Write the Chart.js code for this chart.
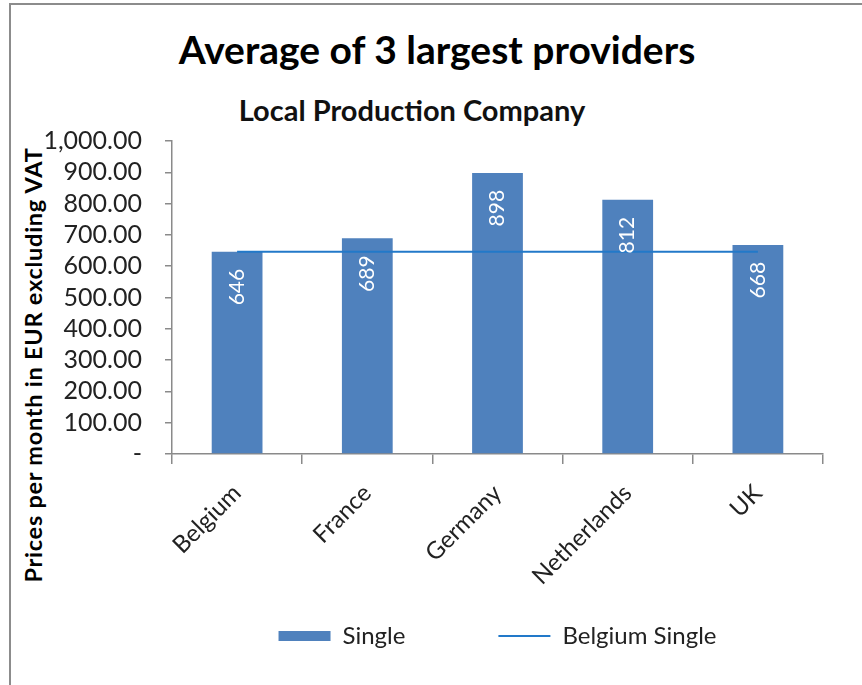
<!DOCTYPE html>
<html>
<head>
<meta charset="utf-8">
<script src="https://cdn.jsdelivr.net/npm/chart.js@4.4.1/dist/chart.umd.min.js"></script>
<style>
  body { margin: 0; background: #fff; width: 862px; height: 685px; overflow: hidden; position: relative; font-family: Lato, "Open Sans", sans-serif; }
  #frame { position: absolute; left: 9px; top: 3px; width: 900px; height: 720px; border: 2px solid #8c8c8c; }
  #chartTitle { position: absolute; left: 0; width: 874px; top: 26px; line-height: 46px; text-align: center; font-size: 39px; font-weight: bold; color: #000; }
  #chartSub { position: absolute; left: 0; width: 824px; top: 92px; line-height: 36px; text-align: center; font-size: 29px; font-weight: bold; color: #111; }
  #yTitle { position: absolute; left: 33px; top: 365px; transform: translate(-50%, -50%) rotate(-90deg); white-space: nowrap; font-size: 23.5px; letter-spacing: 0.75px; font-weight: bold; color: #000; }
  canvas { position: absolute; left: 0; top: 0; }
</style>
</head>
<body>
<div id="frame"></div>
<div id="chartTitle"></div>
<div id="chartSub"></div>
<div id="yTitle"></div>
<canvas id="chart" width="862" height="685"></canvas>
<script>
// ---- data ----
const titleText = 'Average of 3 largest providers';
const subtitleText = 'Local Production Company';
const yAxisTitle = 'Prices per month in EUR excluding VAT';

const countries    = ['Belgium', 'France', 'Germany', 'Netherlands', 'UK'];
const singlePrices = [646, 689, 898, 812, 668];
const belgiumLine  = [646, 646, 646, 646, 646];
const yTickLabels  = ['-', '100.00', '200.00', '300.00', '400.00', '500.00',
                      '600.00', '700.00', '800.00', '900.00', '1,000.00'];
const legendStyles = ['rect', 'line'];

document.getElementById('chartTitle').textContent = titleText;
document.getElementById('chartSub').textContent = subtitleText;
document.getElementById('yTitle').textContent = yAxisTitle;

const FONT = 'Lato, "Open Sans", sans-serif';
const AXIS_GREY = '#8a8a8a';
const LEGEND_GAP = '\u2003\u2003\u2003\u2003'; // wide gap after the first legend entry

// white value labels, rotated, inside the top of each bar
const barLabels = {
  id: 'barLabels',
  afterDatasetsDraw(chart) {
    const ctx = chart.ctx;
    const meta = chart.getDatasetMeta(0);
    ctx.save();
    ctx.fillStyle = '#fff';
    ctx.font = '21px ' + FONT;
    ctx.textAlign = 'right';
    ctx.textBaseline = 'middle';
    meta.data.forEach((bar, i) => {
      ctx.save();
      ctx.translate(bar.x, bar.y + 17);
      ctx.rotate(-Math.PI / 2);
      ctx.fillText(String(singlePrices[i]), 0, 0);
      ctx.restore();
    });
    ctx.restore();
  }
};

const chart = new Chart(document.getElementById('chart'), {
  type: 'bar',
  data: {
    labels: countries,
    datasets: [
      {
        type: 'bar',
        label: 'Single',
        data: singlePrices,
        backgroundColor: '#4F81BD',
        barPercentage: 0.39,
        categoryPercentage: 1,
        order: 2
      },
      {
        type: 'line',
        label: 'Belgium Single',
        data: belgiumLine,
        borderColor: '#2279C9',
        backgroundColor: '#2279C9',
        borderWidth: 2,
        pointRadius: 0,
        order: 1
      }
    ]
  },
  options: {
    responsive: false,
    animation: false,
    layout: { padding: { left: 0, right: 39, top: 141, bottom: 27 } },
    plugins: {
      legend: {
        position: 'bottom',
        fullSize: false,
        labels: {
          usePointStyle: true,
          pointStyleWidth: 52,
          boxHeight: 10,
          padding: 21,
          color: '#222',
          font: { family: FONT, size: 24 },
          sort: (a, b) => a.datasetIndex - b.datasetIndex,
          generateLabels(chart) {
            const items = Chart.defaults.plugins.legend.labels.generateLabels(chart);
            items.forEach(it => {
              it.pointStyle = legendStyles[it.datasetIndex];
              if (it.datasetIndex === 0) {
                it.lineWidth = 0;
                it.text += LEGEND_GAP;
              }
            });
            return items;
          }
        }
      },
      tooltip: { enabled: false }
    },
    scales: {
      x: {
        grid: { drawOnChartArea: false, tickLength: 10, color: AXIS_GREY, lineWidth: 1.5 },
        border: { color: AXIS_GREY, width: 1.5 },
        ticks: { minRotation: 45, maxRotation: 45, padding: 15, color: '#222', font: { family: FONT, size: 24 } },
        afterFit(scale) { scale.height = 149; }
      },
      y: {
        min: 0,
        max: 1000,
        grid: { drawOnChartArea: false, tickLength: 7, color: AXIS_GREY, lineWidth: 1.5 },
        border: { color: AXIS_GREY, width: 1.5 },
        ticks: {
          stepSize: 100,
          autoSkip: false,
          padding: 23,
          color: '#222',
          font: { family: FONT, size: 25 },
          callback: (v, i) => yTickLabels[i]
        },
        afterFit(scale) { scale.width = 172; }
      }
    }
  },
  plugins: [barLabels]
});
</script>
</body>
</html>
